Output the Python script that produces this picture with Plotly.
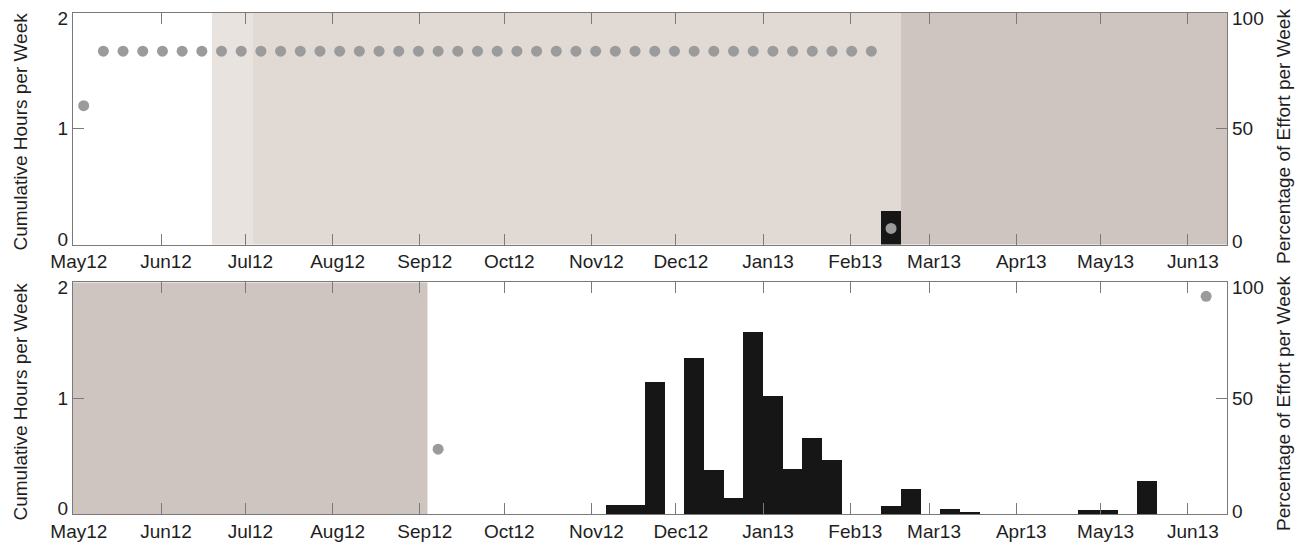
import plotly.graph_objects as go
import pandas as pd

# ---------------- data ----------------
week_start = pd.date_range("2012-05-01", periods=58, freq="7D")

# cumulative hours per week (left axis)
top_hours = [0]*41 + [0.29] + [0]*16
bot_hours = ([0]*27 + [0.075, 0.075, 1.14, 0, 1.34, 0.38, 0.135, 1.565, 1.015, 0.385, 0.65, 0.46,
                       0, 0, 0.066, 0.216, 0, 0.037, 0.017, 0, 0, 0, 0, 0, 0.035, 0.035, 0, 0.282,
                       0, 0, 0])

# percentage of effort per week (right axis); None = not shown
top_pct = [60] + [83.5]*40 + [7] + [None]*16
bot_pct = [None]*18 + [28] + [None]*38 + [94]

month_ticks = ["2012-05-01", "2012-06-01", "2012-07-01", "2012-08-01", "2012-09-01", "2012-10-01",
               "2012-11-01", "2012-12-01", "2013-01-01", "2013-02-01", "2013-03-01", "2013-04-01",
               "2013-05-01", "2013-06-01"]
month_labels = ["May12", "Jun12", "Jul12", "Aug12", "Sep12", "Oct12", "Nov12", "Dec12",
                "Jan13", "Feb13", "Mar13", "Apr13", "May13", "Jun13"]
x_range = ["2012-04-30 17:00", "2013-06-14 22:00"]

hours_ticks = [0, 1, 2]
hours_labels = ["0", "1", "2"]
pct_ticks = [0, 50, 100]
pct_labels = ["0", "50", "100"]

# shaded periods (start, end, colour)
top_shade_start = ["2012-06-19 02:00", "2012-07-03 17:00", "2013-02-19 00:00"]
top_shade_end = ["2012-07-03 17:00", "2013-02-19 00:00", "2013-06-14 22:00"]
top_shade_color = ["#e8e3df", "#e0d9d4", "#cec5c0"]
bot_shade_start = ["2012-04-30 17:00"]
bot_shade_end = ["2012-09-03 17:00"]
bot_shade_color = ["#cec5c0"]

# ---------------- figure ----------------
FONT = "Liberation Sans, Arial, sans-serif"
FS = 19
LINE = "#7a7a7a"
TXT = "#1e1e1e"
BAR = "#161616"
DOT = "#9b9b9b"

centers = week_start + pd.Timedelta(hours=84)
week_ms = 7 * 24 * 3600 * 1000

fig = go.Figure()
fig.add_trace(go.Bar(x=centers, y=top_hours, width=week_ms, marker=dict(color=BAR, line=dict(width=0)),
                     xaxis="x", yaxis="y", showlegend=False))
fig.add_trace(go.Scatter(x=centers, y=top_pct, mode="markers", marker=dict(color=DOT, size=11),
                         xaxis="x", yaxis="y2", showlegend=False))
fig.add_trace(go.Bar(x=centers, y=bot_hours, width=week_ms, marker=dict(color=BAR, line=dict(width=0)),
                     xaxis="x2", yaxis="y3", showlegend=False))
fig.add_trace(go.Scatter(x=centers, y=bot_pct, mode="markers", marker=dict(color=DOT, size=11),
                         xaxis="x2", yaxis="y4", showlegend=False))
# empty traces so the label-only axes get drawn
for xa, ya in (("x", "y5"), ("x", "y6"), ("x2", "y7"), ("x2", "y8")):
    fig.add_trace(go.Scatter(x=[], y=[], mode="markers", xaxis=xa, yaxis=ya, showlegend=False,
                             hoverinfo="skip"))

shapes = []
for s, e, c in zip(top_shade_start, top_shade_end, top_shade_color):
    shapes.append(dict(type="rect", xref="x", yref="y domain", x0=s, x1=e, y0=0, y1=1,
                       fillcolor=c, line=dict(width=0), layer="below"))
for s, e, c in zip(bot_shade_start, bot_shade_end, bot_shade_color):
    shapes.append(dict(type="rect", xref="x2", yref="y3 domain", x0=s, x1=e, y0=0, y1=1,
                       fillcolor=c, line=dict(width=0), layer="below"))

# page body has an 8px margin: figure is placed at (8, 8)
OFF = 8
W, H = 1304 - OFF, 550 - OFF
ML, MR, MT, MB = 73 - OFF, 77, 13 - OFF, 36
pw = W - ML - MR
ph = H - MT - MB
panel_h = 231.6
top_dom = [1 - panel_h / ph, 1]
bot_dom = [0, panel_h / ph]

tickfont = dict(family=FONT, size=FS, color=TXT)
xcommon = dict(range=x_range, tickmode="array", tickvals=month_ticks, ticktext=month_labels,
               ticks="inside", ticklen=11, tickcolor=LINE, tickwidth=1, showline=True, linecolor=LINE,
               linewidth=1, mirror="ticks", showgrid=False, zeroline=False, ticklabelshift=5,
               tickfont=tickfont, fixedrange=True, ticklabeloverflow="allow")
# axes carrying frame + tick marks (no labels)
ymarks = dict(ticks="inside", ticklen=11, tickcolor=LINE, tickwidth=1, showline=True, linecolor=LINE,
              linewidth=1, showgrid=False, zeroline=False, showticklabels=False, fixedrange=True,
              tickmode="array")
# label-only axes (end labels nudged inward as in the original)
ylabels = dict(ticks="", showline=False, showgrid=False, zeroline=False, tickfont=tickfont,
               fixedrange=True, ticklabeloverflow="allow", tickmode="array", ticklabelstandoff=4)
hours_label_pos = [0.045, 1, 1.955]
pct_label_pos = [1.2, 50, 97.9]

fig.update_layout(
    width=W, height=H,
    margin=dict(l=ML, r=MR, t=MT, b=MB, autoexpand=False),
    paper_bgcolor="white", plot_bgcolor="white",
    bargap=0, barmode="overlay", showlegend=False, hovermode=False,
    shapes=shapes,
    xaxis=dict(domain=[0, 1], anchor="y", **xcommon),
    yaxis=dict(domain=top_dom, anchor="x", range=[0, 2], tickvals=hours_ticks, **ymarks),
    yaxis2=dict(overlaying="y", anchor="x", side="right", range=[0, 100], tickvals=pct_ticks, **ymarks),
    yaxis5=dict(overlaying="y", anchor="x", side="left", range=[0, 2], tickvals=hours_label_pos,
                ticktext=hours_labels, **ylabels),
    yaxis6=dict(overlaying="y", anchor="x", side="right", range=[0, 100], tickvals=pct_label_pos,
                ticktext=pct_labels, **ylabels),
    xaxis2=dict(domain=[0, 1], anchor="y3", **xcommon),
    yaxis3=dict(domain=bot_dom, anchor="x2", range=[0, 2], tickvals=hours_ticks, **ymarks),
    yaxis4=dict(overlaying="y3", anchor="x2", side="right", range=[0, 100], tickvals=pct_ticks, **ymarks),
    yaxis7=dict(overlaying="y3", anchor="x2", side="left", range=[0, 2], tickvals=hours_label_pos,
                ticktext=hours_labels, **ylabels),
    yaxis8=dict(overlaying="y3", anchor="x2", side="right", range=[0, 100], tickvals=pct_label_pos,
                ticktext=pct_labels, **ylabels),
)

# axis titles as annotations (page-pixel centres converted to paper coords)
def px_to_paper_x(px):
    return (px - 73) / pw

def px_to_paper_y(py):
    return 1 - (py - 13) / ph

title_specs = [
    ("Cumulative Hours per Week", 19.5, 132),
    ("Cumulative Hours per Week", 19.5, 402),
    ("Percentage of Effort per Week", 1283, 137),
    ("Percentage of Effort per Week", 1283, 404),
]
for txt, cx, cy in title_specs:
    fig.add_annotation(text=txt, xref="paper", yref="paper", x=px_to_paper_x(cx), y=px_to_paper_y(cy),
                       textangle=-90, showarrow=False, xanchor="center", yanchor="middle",
                       font=dict(family=FONT, size=FS, color=TXT))

fig.write_html("out.html", config=dict(displayModeBar=False))
